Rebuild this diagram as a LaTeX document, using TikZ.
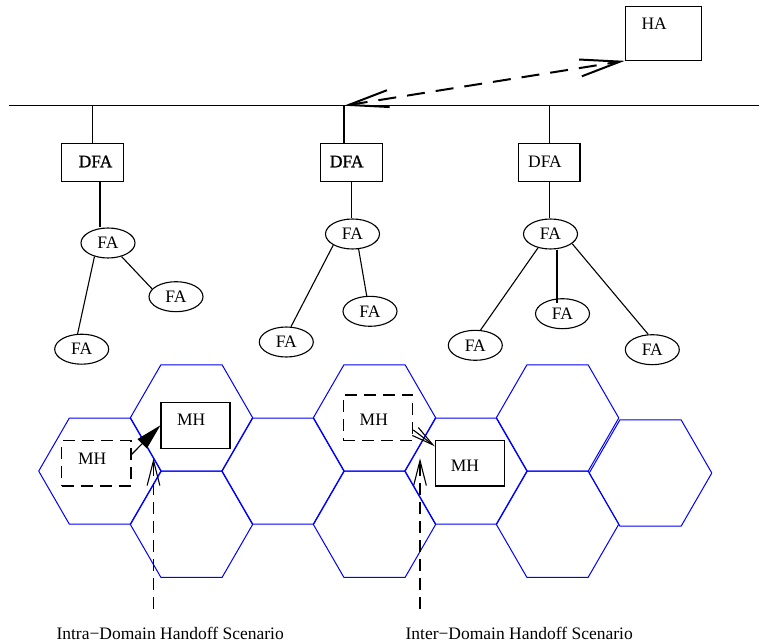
\documentclass[tikz,border=0pt]{standalone}
\usepackage{fontspec}
\setmainfont{Liberation Serif}
\newfontfamily\heavyserif[FakeBold=1]{Liberation Serif}
\usetikzlibrary{arrows.meta,calc,shapes.geometric}

\begin{document}
\begin{tikzpicture}[
    x=1pt, y=-1pt,
    font=\fontsize{17.5}{21}\selectfont,
    line width=1.1pt,
    box/.style={draw, rectangle, inner sep=0pt, line width=1.1pt},
    dashbox/.style={box, dash pattern=on 12pt off 7pt},
    fa/.style={draw, ellipse, minimum width=54pt, minimum height=30pt, inner sep=0pt, line width=1.1pt},
    cell/.style={draw=blue, line width=1pt, line join=round},
    thindash/.style={dash pattern=on 12pt off 7pt},
    bigarrow/.style={line width=2pt, dash pattern=on 18pt off 11pt,
      {Straight Barb[length=40pt,width=17pt]}-{Straight Barb[length=40pt,width=17pt]}},
    openhead/.style={-{Straight Barb[length=25pt,width=12.7pt]}},
    heavylabel/.style={font=\heavyserif\fontsize{17.5}{21}\selectfont}
  ]
  \useasboundingbox (0,0) rectangle (759,644);

  % honeycomb of radio cells
  \foreach \cx/\cy in {100/471.1, 191.5/418, 191.5/524.2, 283/471.1,
                       374.5/418, 374.5/524.2, 466/471.1,
                       557.5/418, 557.5/524.2, 650.5/473}{
    \draw[cell] (\cx+61.3,\cy) -- (\cx+30.65,\cy-53.1) -- (\cx-30.65,\cy-53.1)
      -- (\cx-61.3,\cy) -- (\cx-30.65,\cy+53.1) -- (\cx+30.65,\cy+53.1) -- cycle;
  }

  % backbone
  \coordinate (busL) at (9,105.7);
  \coordinate (busR) at (759,105.7);
  \draw (busL) -- (busR);

  % home agent
  \node[box, minimum width=76.4pt, minimum height=53.6pt,
        label={[xshift=-9.3pt, yshift=9.3pt]center:HA}] (ha) at (663.5,33.5) {};

  % domain foreign agents
  \node[box, minimum width=61.6pt, minimum height=38.4pt,
        label={[heavylabel, xshift=3pt, yshift=1pt]center:DFA}] (dfa1) at (92.5,162.5) {};
  \node[box, minimum width=61.6pt, minimum height=38.4pt,
        label={[heavylabel, xshift=-4.8pt, yshift=1pt]center:DFA}] (dfa2) at (351.5,162.5) {};
  \node[box, minimum width=61.6pt, minimum height=38.4pt,
        label={[xshift=-4.2pt, yshift=1pt]center:DFA}] (dfa3) at (549.2,162.5) {};

  \coordinate (t2) at (344,105.7);
  \draw (dfa1.north |- busL) -- (dfa1.north);
  \draw (t2) -- (t2 |- dfa2.north);
  \draw (dfa3.north |- busL) -- (dfa3.north);

  % signalling between the domain and the home agent
  \draw[bigarrow] (t2) -- (ha.south west);

  % foreign agents
  \node[fa] (fa1)  at (108,243)     {FA};
  \node[fa] (fa1b) at (176,296.7)   {FA};
  \node[fa] (fa1c) at (81.7,349.2)  {FA};
  \node[fa] (fa2)  at (352.5,234)   {FA};
  \node[fa] (fa2b) at (370,311.3)   {FA};
  \node[fa] (fa2c) at (286.3,342)   {FA};
  \node[fa] (fa3)  at (550.5,234)   {FA};
  \node[fa] (fa3a) at (475.3,345.3) {FA};
  \node[fa] (fa3b) at (562.5,313.7) {FA};
  \node[fa] (fa3c) at (652.3,349.7) {FA};

  % hierarchy links
  \draw ([xshift=7.5pt]dfa1.south) -- ([xshift=-8pt]fa1.north);
  \draw (dfa2.south) -- (dfa2.south |- fa2.north);
  \draw (dfa3.south) -- (dfa3.south |- fa3.north);

  \draw (fa1.-135) -- (fa1c.105);
  \draw (fa1.-45)  -- (fa1b.162);
  \draw (fa2.-150) -- (fa2c.73);
  \draw (fa2.-68)  -- (fa2b.102);
  \draw (fa3.-132) -- (fa3a.71);
  \draw ([xshift=6.5pt]fa3.south) -- ([xshift=-5.5pt, yshift=-5pt]fa3b.north);
  \draw (fa3.-24)  -- (fa3c.105);

  % mobile hosts: old (dashed) and new (solid) positions
  \node[dashbox, minimum width=69.3pt, minimum height=45.3pt,
        label={[xshift=-4.1pt, yshift=5pt]center:MH}] (mhd1) at (96.3,463.3) {};
  \node[box, minimum width=69pt, minimum height=46pt,
        label={[xshift=-4.3pt, yshift=5.3pt]center:MH}] (mhs1) at (195.5,425.3) {};
  \node[dashbox, minimum width=69.4pt, minimum height=45.7pt,
        label={[xshift=-4.2pt, yshift=-2.2pt]center:MH}] (mhd2) at (378,417.8) {};
  \node[box, minimum width=68.7pt, minimum height=45.3pt,
        label={[xshift=-4.7pt, yshift=-2.5pt]center:MH}] (mhs2) at (469.7,463.3) {};

  \draw[-{Triangle[length=26pt,width=13pt]}] (mhd1.14.6) -- (mhs1.west);
  \draw[-{Straight Barb[length=22pt,width=10pt]}] (mhd2.-19.4) -- (mhs2.154);

  % scenario pointers
  \coordinate (v1b) at (153.5,608.5);
  \coordinate (v1t) at (153.5,458.3);
  \coordinate (v2b) at (420,608.5);
  \coordinate (v2t) at (420,458.3);
  \draw[thindash, openhead] (v1b) -- (v1t);
  \draw[thindash, openhead] (v2b) -- (v2t);

  \node[anchor=base west, inner sep=0pt] (cap1) at (56,639) {Intra−Domain Handoff Scenario};
  \node[anchor=base west, inner sep=0pt] (cap2) at (405,639) {Inter−Domain Handoff Scenario};
\end{tikzpicture}
\end{document}
